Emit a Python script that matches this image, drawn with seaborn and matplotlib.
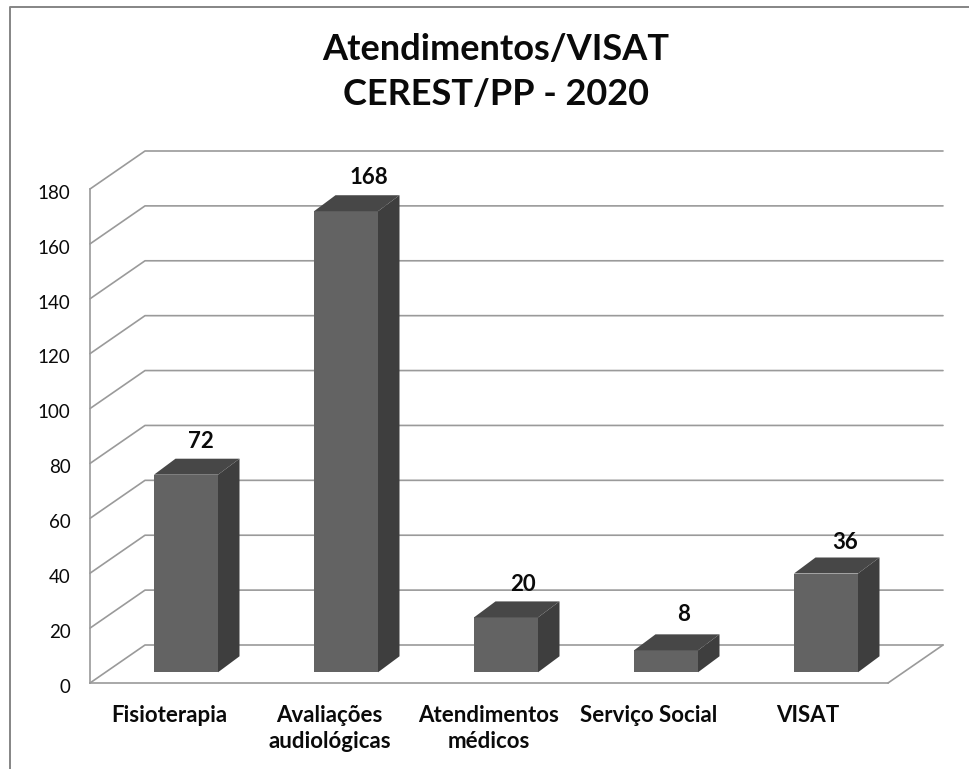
import matplotlib
matplotlib.use("Agg")
import matplotlib.pyplot as plt
from matplotlib.lines import Line2D
from matplotlib.patches import Polygon
from matplotlib.transforms import ScaledTranslation
import seaborn as sns

categories = ["Fisioterapia", "Avaliações\naudiológicas", "Atendimentos\nmédicos", "Serviço Social", "VISAT"]
values = [72, 168, 20, 8, 36]
y_ticks = [0, 20, 40, 60, 80, 100, 120, 140, 160, 180]
title = "Atendimentos/VISAT\nCEREST/PP - 2020"

W, H = 969, 769
WALL = "#9a9a9a"
FRONT = "#636363"
SIDE = "#3e3e3e"
TOP = "#474747"
px_y = 494 / 180  # pixels per unit on the value axis

sns.set_theme(style="white")
plt.rcParams["font.family"] = ["Lato", "DejaVu Sans"]

fig = plt.figure(figsize=(W / 100, H / 100), dpi=100, facecolor="white")


def rect(left, right, bottom, top):
    return [left / W, 1 - bottom / H, (right - left) / W, (bottom - top) / H]


# frame axes: front plane of the 3d box, holds ticks and the walls
ax = fig.add_axes(rect(90, 888, 683, 189))
ax.set_xlim(-0.5, 4.5)
ax.set_ylim(0, 180)
ax.patch.set_visible(False)
sns.despine(ax=ax, top=True, right=True)
for s in ["left", "bottom"]:
    ax.spines[s].set_color(WALL)
    ax.spines[s].set_linewidth(1.2)
ax.set_xticks(range(len(categories)))
ax.set_xticklabels(categories, fontsize=16, fontweight="bold", color="#0a0a0a", linespacing=1.35)
ax.set_yticks(y_ticks)
ax.set_yticklabels(y_ticks, fontsize=13.5, color="#0a0a0a")
ax.tick_params(axis="x", length=0, pad=15.5)
ax.tick_params(axis="y", length=0, pad=14)
shift = ScaledTranslation(0, -2 / 72, fig.dpi_scale_trans)
for lbl in ax.get_yticklabels():
    lbl.set_transform(lbl.get_transform() + shift)

wall_dx = 55 / (798 / 5)
wall_dy = 38 / px_y
x0, x1 = -0.5, 4.5
for t in y_ticks:
    ax.plot([x0, x0 + wall_dx, x1 + wall_dx], [t, t + wall_dy, t + wall_dy], color=WALL, lw=1.2, clip_on=False)
ax.plot([x1, x1 + wall_dx], [0, wall_dy], color=WALL, lw=1.2, clip_on=False)

# bars sit a little behind the front plane
ax_bars = fig.add_axes(rect(106, 906, 672.3, 178.3))
sns.barplot(x=list(range(len(values))), y=values, color=FRONT, saturation=1, width=0.4,
            linewidth=0, edgecolor=FRONT, ax=ax_bars)
ax_bars.set_xlim(-0.5, 4.5)
ax_bars.set_ylim(0, 180)
ax_bars.axis("off")

bar_dx = 21.5 / 160
bar_dy = 16 / px_y
label_dx = [15, 23, 17, 18, 19]
label_dy = [33, 34, 33, 36, 31]
for i, (bar, v) in enumerate(zip(list(ax_bars.patches), values)):
    l, r = bar.get_x(), bar.get_x() + bar.get_width()
    ax_bars.add_patch(Polygon([(r, 0), (r + bar_dx, bar_dy), (r + bar_dx, v + bar_dy), (r, v)],
                              closed=True, facecolor=SIDE, edgecolor="none", clip_on=False))
    ax_bars.add_patch(Polygon([(l, v), (l + bar_dx, v + bar_dy), (r + bar_dx, v + bar_dy), (r, v)],
                              closed=True, facecolor=TOP, edgecolor="none", clip_on=False))
    ax_bars.annotate(str(v), (i, v), xytext=(label_dx[i] * 0.72, label_dy[i] * 0.72),
                     textcoords="offset points", ha="center", va="center",
                     fontsize=16, fontweight="bold", color="#0a0a0a", annotation_clip=False)

fig.suptitle(title, x=496 / W, y=1 - 72 / H, ha="center", va="center",
             fontsize=26, fontweight="bold", color="#0a0a0a", linespacing=1.45)

# outer chart frame, only left and top are inside the crop
fig.add_artist(Line2D([10 / W, 10 / W, 1], [0, 1 - 7 / H, 1 - 7 / H], color="#858585", lw=1.4))

fig.savefig("out.png", dpi=100)
